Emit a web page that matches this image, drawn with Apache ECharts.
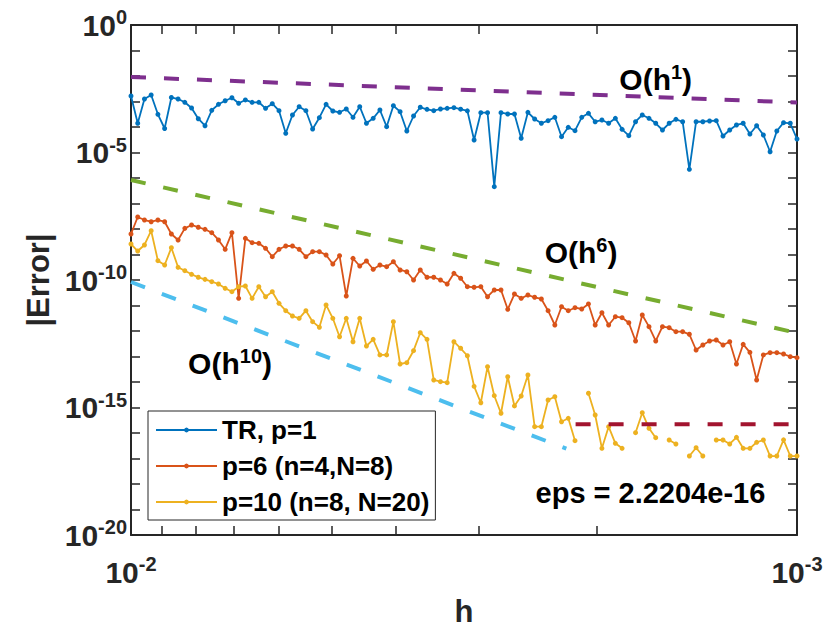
<!DOCTYPE html>
<html><head><meta charset="utf-8">
<script src="https://cdn.jsdelivr.net/npm/echarts@6/dist/echarts.min.js"></script>
<style>html,body{margin:0;padding:0;background:#fff}#c{width:827px;height:632px}</style>
</head><body><div id="c"></div>
<script>
// 1/h for each sample (h from 1e-2 to 1e-3)
const invH = [100, 102.35, 104.76, 107.22, 109.75, 112.33, 114.98, 117.68, 120.45, 123.29,
126.19, 129.16, 132.20, 135.31, 138.49, 141.75, 145.09, 148.50, 152.00, 155.57,
159.23, 162.98, 166.81, 170.74, 174.75, 178.86, 183.07, 187.38, 191.79, 196.30,
200.92, 205.65, 210.49, 215.44, 220.51, 225.70, 231.01, 236.45, 242.01, 247.71,
253.54, 259.50, 265.61, 271.86, 278.26, 284.81, 291.51, 298.37, 305.39, 312.57,
319.93, 327.46, 335.16, 343.05, 351.12, 359.38, 367.84, 376.49, 385.35, 394.42,
403.70, 413.20, 422.92, 432.88, 443.06, 453.48, 464.16, 475.08, 486.26, 497.70,
509.41, 521.40, 533.67, 546.23, 559.08, 572.24, 585.70, 599.48, 613.59, 628.03,
642.81, 657.93, 673.42, 689.26, 705.48, 722.08, 739.07, 756.46, 774.26, 792.48,
811.13, 830.22, 849.75, 869.75, 890.22, 911.17, 932.60, 954.55, 977.01, 1000];

const errTR = [1.64e-3, 1.40e-4, 1.25e-3, 1.80e-3, 3.15e-4, 8.73e-5, 1.44e-3, 1.25e-3, 9.31e-4, 5.56e-4,
2.11e-4, 1.12e-4, 4.52e-4, 7.76e-4, 1.07e-3, 1.40e-3, 8.49e-4, 1.15e-3, 9.31e-4, 9.31e-4,
5.41e-4, 8.20e-4, 4.36e-4, 5.66e-5, 2.96e-4, 6.25e-4, 4.36e-4, 8.36e-5, 2.32e-4, 7.76e-4,
4.24e-4, 3.77e-4, 5.08e-4, 2.40e-4, 6.25e-4, 1.40e-4, 2.19e-4, 4.64e-4, 1.03e-4, 6.84e-4,
3.98e-4, 6.97e-5, 2.70e-4, 5.93e-4, 4.94e-4, 4.36e-4, 5.08e-4, 5.41e-4, 5.71e-4, 4.99e-4,
4.32e-4, 3.09e-5, 3.64e-4, 3.64e-4, 4.56e-7, 3.64e-4, 3.24e-4, 3.24e-4, 3.61e-5, 3.77e-4,
2.06e-4, 1.40e-4, 1.77e-4, 2.40e-4, 4.17e-5, 9.73e-5, 7.16e-5, 2.40e-4, 3.44e-4, 1.61e-4,
1.88e-4, 1.40e-4, 2.19e-4, 8.13e-5, 4.56e-5, 1.61e-4, 2.96e-4, 2.19e-4, 1.40e-4, 7.62e-5,
1.40e-4, 2.00e-4, 1.61e-4, 2.19e-6, 1.61e-4, 1.61e-4, 1.72e-4, 1.77e-4, 4.44e-5, 7.62e-5,
1.20e-4, 1.40e-4, 5.31e-5, 1.12e-4, 4.85e-5, 1.07e-5, 6.97e-5, 1.48e-4, 1.40e-4, 3.38e-5];

const errP6 = [6.37e-9, 2.96e-8, 2.25e-8, 1.93e-8, 2.25e-8, 1.93e-8, 6.37e-9, 3.71e-9, 1.06e-8, 1.44e-8,
1.17e-8, 9.73e-9, 7.16e-9, 3.71e-9, 1.60e-9, 7.16e-9, 1.91e-11, 4.32e-9, 2.90e-9, 2.75e-9,
1.75e-9, 8.20e-10, 1.60e-9, 2.15e-9, 2.15e-9, 1.60e-9, 8.20e-10, 1.29e-9, 1.29e-9, 9.55e-10,
4.24e-10, 8.97e-10, 2.36e-11, 7.10e-10, 3.54e-10, 5.56e-10, 2.63e-10, 3.87e-10, 3.33e-10, 5.22e-10,
2.47e-10, 2.11e-10, 1.0e-10, 2.47e-10, 1.28e-10, 1.28e-10, 1.0e-10, 6.97e-11, 1.83e-10, 1.17e-10,
5.46e-11, 5.18e-11, 5.46e-11, 2.21e-11, 4.06e-11, 4.06e-11, 7.10e-12, 2.82e-11, 1.91e-11, 2.58e-11,
2.10e-11, 1.80e-11, 6.25e-12, 1.72e-12, 8.97e-12, 6.25e-12, 8.20e-12, 7.29e-12, 1.15e-11, 1.72e-12,
5.22e-12, 1.72e-12, 3.64e-12, 3.33e-12, 2.11e-12, 4.06e-13, 4.24e-12, 1.48e-12, 4.06e-13, 1.48e-12,
1.35e-12, 9.40e-13, 9.40e-13, 7.43e-13, 1.80e-13, 2.82e-13, 4.06e-13, 4.44e-13, 2.82e-13, 3.80e-13,
5.08e-14, 3.01e-13, 1.46e-13, 1.20e-14, 1.15e-13, 1.41e-13, 1.41e-13, 1.25e-13, 9.82e-14, 8.97e-14];

const errP10 = [2.58e-9, 1.37e-9, 2.36e-9, 8.57e-9, 5.71e-10, 3.87e-10, 1.85e-9, 3.15e-10, 2.32e-10, 1.67e-10,
1.28e-10, 1.06e-10, 8.57e-11, 6.97e-11, 4.73e-11, 3.48e-11, 5.46e-11, 5.82e-11, 1.91e-11, 5.46e-11,
2.21e-11, 3.48e-11, 1.22e-11, 6.25e-12, 3.87e-12, 3.15e-12, 6.25e-12, 2.32e-12, 1.40e-12, 1.05e-11,
3.15e-12, 5.97e-13, 3.15e-12, 3.80e-13, 3.15e-12, 2.58e-13, 4.73e-13, 1.15e-13, 1.15e-13, 2.32e-12,
5.08e-14, 5.71e-14, 1.69e-13, 8.57e-13, 4.73e-13, 1.20e-14, 1.03e-14, 9.40e-15, 3.80e-13, 2.10e-13,
1.07e-13, 6.78e-15, 1.54e-15, 3.98e-14, 2.90e-15, 5.93e-16, 1.61e-14, 1.15e-15, 2.82e-15, 1.88e-14,
1.77e-16, 1.77e-16, 1.97e-15, 2.65e-15, 2.77e-16, 3.77e-16, 4.99e-17, null, 3.61e-15, 5.08e-16,
2.51e-17, 1.77e-16, 3.94e-17, 2.51e-17, null, 1.03e-16, 6.25e-16, 1.53e-16, 6.55e-17, null,
5.31e-17, 3.71e-17, null, 1.25e-17, 2.65e-17, 1.25e-17, null, 5.31e-17, 5.31e-17, 3.71e-17,
6.78e-17, 2.51e-17, 2.51e-17, 4.32e-17, 5.31e-17, 1.25e-17, 1.25e-17, 5.41e-17, 1.25e-17, 1.25e-17];

// reference slopes (two end points each)
const refX = [0.01, 0.001];
const refH1 = [9.1e-3, 9.1e-4];
const refH6 = [8.35e-7, 8.35e-13];
const refH10X = [0.01, 2.22e-3];
const refH10 = [8.35e-11, 2.43e-17];
const epsX = [2.15e-3, 0.001];
const epsY = [2.2204e-16, 2.2204e-16];

// ticks
const xTicks = [0.01, 0.009, 0.008, 0.007, 0.006, 0.005, 0.004, 0.003, 0.002, 0.001];
const xLabels = [0.01, 0.001];
const yTicks = [1, 1e-1, 1e-2, 1e-3, 1e-4, 1e-5, 1e-6, 1e-7, 1e-8, 1e-9, 1e-10, 1e-11, 1e-12, 1e-13, 1e-14, 1e-15, 1e-16, 1e-17, 1e-18, 1e-19, 1e-20];
const yLabels = [1, 1e-5, 1e-10, 1e-15, 1e-20];

const seriesNames = ['TR, p=1', 'p=6 (n=4,N=8)', 'p=10 (n=8, N=20)'];
const noteTexts = ['{b|O(h}{s|1}{b|)}', '{b|O(h}{s|6}{b|)}', '{b|O(h}{s|10}{b|)}', '{e|eps = 2.2204e-16}'];
const noteH = [1.63e-3, 2.11e-3, 7.1e-3, 1.66e-3];
const noteV = [6.97e-3, 1.15e-9, 5.1e-14, 4.4e-19];

const FONT = '"Liberation Sans", Arial, Helvetica, sans-serif';
const AX = '#262626';
const chart = echarts.init(document.getElementById('c'), null, {renderer: 'svg', width: 827, height: 632});

function supLabel(v) { const e = Math.round(Math.log10(v)); return '{b|10}{s|' + e + '}'; }
const labelRich = {
  b: {fontSize: 30, fontWeight: 'bold', fontFamily: FONT, color: AX, lineHeight: 36},
  s: {fontSize: 20, fontWeight: 'bold', fontFamily: FONT, color: AX, lineHeight: 20, verticalAlign: 'top'}
};
function pairs(xs, ys) { return xs.map((x, i) => [x, ys[i] == null ? '-' : ys[i]]); }
const hVals = invH.map(n => 1 / n);

function xAxisCfg(pos, main) {
  return {
    type: 'log', logBase: 10, min: 0.001, max: 0.01, inverse: true, position: pos,
    axisLine: {show: true, onZero: false, lineStyle: {color: AX, width: 2}},
    axisTick: {show: true, inside: true, length: 9, customValues: xTicks, lineStyle: {color: AX, width: 1.5}},
    minorTick: {show: false}, splitLine: {show: false},
    axisLabel: {show: main, customValues: xLabels, formatter: supLabel, rich: labelRich, margin: 19},
    name: main ? 'h' : '', nameLocation: 'middle', nameGap: 61,
    nameTextStyle: {fontSize: 31, fontWeight: 'bold', fontFamily: FONT, color: AX}
  };
}
function yAxisCfg(pos, main) {
  return {
    type: 'log', logBase: 10, min: 1e-20, max: 1, position: pos,
    axisLine: {show: true, onZero: false, lineStyle: {color: AX, width: 2}},
    axisTick: {show: true, inside: true, length: 9, customValues: yTicks, lineStyle: {color: AX, width: 1.5}},
    minorTick: {show: false}, splitLine: {show: false},
    axisLabel: {show: main, customValues: yLabels, formatter: supLabel, rich: labelRich, margin: 4},
    name: main ? '|Error|' : '', nameLocation: 'middle', nameGap: 74, nameRotate: 90,
    nameTextStyle: {fontSize: 31, fontWeight: 'bold', fontFamily: FONT, color: AX}
  };
}
function dataSeries(name, ys, color) {
  return {
    name: name, type: 'line', xAxisIndex: 0, yAxisIndex: 0, data: pairs(hVals, ys),
    symbol: 'circle', symbolSize: 5, showSymbol: true, connectNulls: false,
    lineStyle: {color: color, width: 1.8}, itemStyle: {color: color}, z: 3
  };
}
function refSeries(xs, ys, color) {
  return {
    type: 'line', xAxisIndex: 0, yAxisIndex: 0, data: pairs(xs, ys), symbol: 'none', silent: true,
    lineStyle: {color: color, width: 4, type: [15, 18]}, z: 4
  };
}

chart.setOption({
  animation: false,
  backgroundColor: '#fff',
  grid: {left: 131, right: 30, top: 25, bottom: 97},
  xAxis: [xAxisCfg('bottom', true), xAxisCfg('top', false)],
  yAxis: [yAxisCfg('left', true), yAxisCfg('right', false)],
  legend: {
    data: seriesNames, orient: 'vertical', left: 148, top: 411,
    itemWidth: 61, itemHeight: 6, itemGap: 4, padding: [3, 6, 2, 7],
    borderColor: AX, borderWidth: 1, backgroundColor: '#fff', borderRadius: 0,
    textStyle: {fontSize: 26, fontWeight: 'bold', fontFamily: FONT, color: '#000', lineHeight: 32}
  },
  series: [
    dataSeries(seriesNames[0], errTR, '#0072BD'),
    dataSeries(seriesNames[1], errP6, '#D95319'),
    dataSeries(seriesNames[2], errP10, '#EDB120'),
    refSeries(refX, refH1, '#7E2F8E'),
    refSeries(refX, refH6, '#77AC30'),
    refSeries(refH10X, refH10, '#4DBEEE'),
    refSeries(epsX, epsY, '#A2142F')
  ]
});

const noteRich = {
  b: {fontSize: 30, fontWeight: 'bold', fontFamily: FONT, fill: '#000', lineHeight: 36},
  s: {fontSize: 20, fontWeight: 'bold', fontFamily: FONT, fill: '#000', lineHeight: 20, verticalAlign: 'top'},
  e: {fontSize: 29, fontWeight: 'bold', fontFamily: FONT, fill: '#000', lineHeight: 34}
};
const graphics = noteTexts.map((t, i) => {
  const p = chart.convertToPixel({xAxisIndex: 0, yAxisIndex: 0}, [noteH[i], noteV[i]]);
  return {type: 'text', x: p[0], y: p[1], z: 10,
    style: {text: t, rich: noteRich, textAlign: 'center', textVerticalAlign: 'middle', fill: '#000',
            fontSize: 30, fontWeight: 'bold', fontFamily: FONT}};
});
chart.setOption({graphic: graphics});
</script>
</body></html>
